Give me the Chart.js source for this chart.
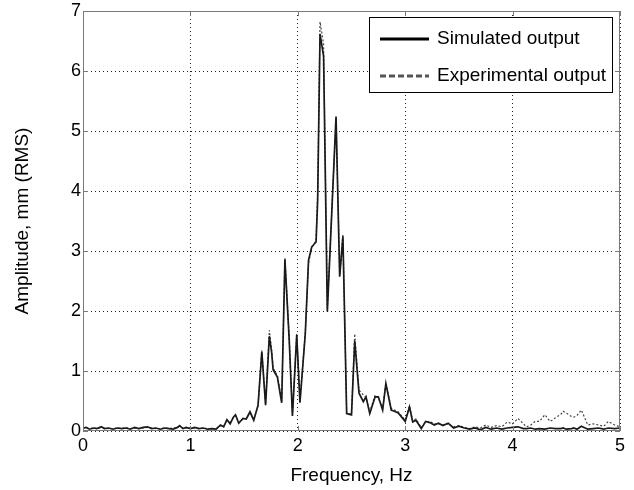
<!DOCTYPE html>
<html>
<head>
<meta charset="utf-8">
<script src="https://cdn.jsdelivr.net/npm/chart.js@4"></script>
<style>
  html, body { margin: 0; padding: 0; background: #fff; }
  #wrap { width: 634px; height: 490px; position: relative; }
</style>
</head>
<body>
<div id="wrap"><canvas id="ampChart"></canvas></div>
<script>
// Frequency points (Hz)
const freqs = [
  0.00, 0.03, 0.06, 0.10, 0.13, 0.17, 0.20, 0.24, 0.28, 0.32,
  0.36, 0.40, 0.44, 0.48, 0.52, 0.56, 0.60, 0.64, 0.68, 0.72,
  0.76, 0.80, 0.84, 0.88, 0.90, 0.93, 0.96, 1.00, 1.04, 1.08,
  1.12, 1.16, 1.20, 1.24, 1.28, 1.31, 1.34, 1.37, 1.40, 1.42,
  1.45, 1.49, 1.52, 1.555, 1.59, 1.63, 1.665, 1.70, 1.735, 1.757,
  1.77, 1.81, 1.85, 1.88, 1.92, 1.95, 1.99, 2.02, 2.07, 2.10,
  2.13, 2.17, 2.185, 2.207, 2.24, 2.275, 2.356, 2.39, 2.42, 2.455,
  2.50, 2.53, 2.57, 2.61, 2.635, 2.67, 2.72, 2.75, 2.79, 2.82,
  2.87, 2.90, 2.935, 3.00, 3.04, 3.07, 3.10, 3.15, 3.19, 3.23,
  3.27, 3.31, 3.35, 3.40, 3.45, 3.50, 3.55, 3.60, 3.65, 3.70,
  3.75, 3.80, 3.85, 3.90, 3.95, 4.00, 4.05, 4.10, 4.13, 4.17,
  4.21, 4.25, 4.30, 4.35, 4.40, 4.45, 4.47, 4.50, 4.55, 4.57,
  4.60, 4.64, 4.70, 4.75, 4.80, 4.85, 4.89, 4.95, 5.00
];

// Simulated output amplitude, mm (RMS)
const simulated = [
  0.05, 0.06, 0.03, 0.05, 0.04, 0.07, 0.04, 0.05, 0.03, 0.05,
  0.04, 0.05, 0.03, 0.06, 0.04, 0.06, 0.07, 0.04, 0.05, 0.03,
  0.05, 0.04, 0.03, 0.06, 0.09, 0.04, 0.06, 0.04, 0.06, 0.04,
  0.05, 0.03, 0.04, 0.03, 0.10, 0.07, 0.19, 0.12, 0.23, 0.27,
  0.13, 0.21, 0.20, 0.32, 0.18, 0.43, 1.32, 0.43, 1.58, 1.30,
  1.02, 0.90, 0.47, 2.86, 1.52, 0.25, 1.60, 0.47, 1.63, 2.85,
  3.07, 3.15, 3.85, 6.62, 6.25, 1.99, 5.24, 2.57, 3.24, 0.29,
  0.27, 1.50, 0.63, 0.49, 0.57, 0.29, 0.57, 0.57, 0.35, 0.79,
  0.35, 0.33, 0.30, 0.16, 0.40, 0.15, 0.18, 0.04, 0.16, 0.14,
  0.10, 0.13, 0.09, 0.13, 0.05, 0.08, 0.05, 0.03, 0.05, 0.02,
  0.06, 0.03, 0.05, 0.03, 0.05, 0.06, 0.07, 0.04, 0.04, 0.05,
  0.03, 0.04, 0.03, 0.05, 0.04, 0.04, 0.05, 0.03, 0.04, 0.05,
  0.03, 0.08, 0.03, 0.04, 0.05, 0.03, 0.05, 0.04, 0.05
];

// Experimental output amplitude, mm (RMS)
const experimental = [
  0.05, 0.05, 0.04, 0.05, 0.04, 0.06, 0.05, 0.04, 0.04, 0.05,
  0.04, 0.06, 0.04, 0.05, 0.04, 0.05, 0.06, 0.05, 0.04, 0.04,
  0.05, 0.04, 0.05, 0.06, 0.08, 0.05, 0.05, 0.05, 0.05, 0.04,
  0.05, 0.04, 0.04, 0.04, 0.09, 0.08, 0.18, 0.13, 0.22, 0.26,
  0.14, 0.20, 0.21, 0.30, 0.19, 0.42, 1.34, 0.45, 1.68, 1.35,
  1.05, 0.92, 0.50, 2.88, 1.55, 0.27, 1.62, 0.50, 1.65, 2.80,
  3.05, 3.18, 3.95, 6.82, 6.45, 2.05, 5.20, 2.60, 3.28, 0.30,
  0.28, 1.62, 0.68, 0.60, 0.56, 0.32, 0.60, 0.55, 0.38, 0.80,
  0.38, 0.35, 0.32, 0.18, 0.42, 0.17, 0.20, 0.06, 0.15, 0.16,
  0.12, 0.12, 0.10, 0.12, 0.07, 0.09, 0.06, 0.04, 0.07, 0.05,
  0.10, 0.06, 0.09, 0.07, 0.15, 0.12, 0.21, 0.12, 0.07, 0.10,
  0.16, 0.16, 0.27, 0.16, 0.22, 0.28, 0.33, 0.30, 0.24, 0.23,
  0.26, 0.35, 0.10, 0.12, 0.10, 0.08, 0.16, 0.10, 0.07
];

const xTicks = [0, 1, 2, 3, 4, 5];
const yTicks = [0, 1, 2, 3, 4, 5, 6, 7];
const seriesNames = ['Simulated output', 'Experimental output'];

const FONT = "Arial, 'Liberation Sans', sans-serif";

function toPoints(values) {
    return values.map((v, i) => ({ x: freqs[i], y: v }));
}

// MATLAB-like frame, inward ticks and legend box
const framePlugin = {
    id: 'frameAndLegend',
    afterDraw(chart) {
        const { ctx, chartArea: a, scales } = chart;
        ctx.save();
        ctx.strokeStyle = '#7a7a7a';
        ctx.lineWidth = 1;
        ctx.setLineDash([]);
        ctx.strokeRect(Math.round(a.left) + 0.5, Math.round(a.top) + 0.5,
            Math.round(a.right - a.left) - 1, Math.round(a.bottom - a.top) - 1);

        const tl = 5;
        ctx.beginPath();
        xTicks.forEach(t => {
            const x = Math.round(scales.x.getPixelForValue(t)) + 0.5;
            ctx.moveTo(x, a.bottom); ctx.lineTo(x, a.bottom - tl);
            ctx.moveTo(x, a.top); ctx.lineTo(x, a.top + tl);
        });
        yTicks.forEach(t => {
            const y = Math.round(scales.y.getPixelForValue(t)) + 0.5;
            ctx.moveTo(a.left, y); ctx.lineTo(a.left + tl, y);
            ctx.moveTo(a.right, y); ctx.lineTo(a.right - tl, y);
        });
        ctx.stroke();

        // legend
        const lx = 369.5, ly = 17.5, lw = 243, lh = 75;
        ctx.fillStyle = '#fff';
        ctx.fillRect(lx, ly, lw, lh);
        ctx.strokeStyle = '#000';
        ctx.strokeRect(lx, ly, lw, lh);

        const rows = [
            { y: 39, color: '#000', dash: [] },
            { y: 76, color: '#555', dash: [6, 3] }
        ];
        ctx.font = '19px ' + FONT;
        ctx.textBaseline = 'middle';
        ctx.textAlign = 'left';
        rows.forEach((r, i) => {
            ctx.beginPath();
            ctx.strokeStyle = r.color;
            ctx.lineWidth = 3;
            ctx.setLineDash(r.dash);
            ctx.moveTo(380, r.y);
            ctx.lineTo(429, r.y);
            ctx.stroke();
            ctx.fillStyle = '#000';
            ctx.fillText(seriesNames[i], 437, r.y);
        });
        ctx.restore();
    }
};

const ctx = document.getElementById('ampChart');

new Chart(ctx, {
    type: 'line',
    data: {
        datasets: [
            {
                label: seriesNames[0],
                data: toPoints(simulated),
                borderColor: '#1a1a1a',
                borderWidth: 1.7,
                pointRadius: 0,
                tension: 0,
                fill: false
            },
            {
                label: seriesNames[1],
                data: toPoints(experimental),
                borderColor: '#444',
                borderWidth: 1.2,
                borderDash: [2, 2],
                pointRadius: 0,
                tension: 0,
                fill: false
            }
        ]
    },
    options: {
        responsive: true,
        maintainAspectRatio: false,
        animation: false,
        layout: { padding: { top: 11, right: 14, left: 0, bottom: 0 } },
        plugins: {
            legend: { display: false },
            tooltip: { enabled: false }
        },
        scales: {
            x: {
                type: 'linear',
                min: 0,
                max: 5,
                afterBuildTicks: scale => { scale.ticks = xTicks.map(v => ({ value: v })); },
                afterFit: scale => {
                    scale.height = 59;
                    scale.paddingLeft = 0; scale.paddingRight = 0;
                },
                ticks: {
                    color: '#000',
                    padding: 4,
                    maxRotation: 0,
                    font: { family: FONT, size: 18 }
                },
                grid: { color: '#222', lineWidth: 1, drawTicks: false },
                border: { display: false, dash: [1, 3] },
                title: {
                    display: true,
                    text: 'Frequency, Hz',
                    color: '#000',
                    font: { family: FONT, size: 19 },
                    padding: { top: 0, bottom: 3 }
                }
            },
            y: {
                min: 0,
                max: 7,
                afterBuildTicks: scale => { scale.ticks = yTicks.map(v => ({ value: v })); },
                afterFit: scale => {
                    scale.width = 83;
                    scale.paddingTop = 0; scale.paddingBottom = 0;
                },
                ticks: {
                    color: '#000',
                    padding: 2,
                    font: { family: FONT, size: 18 }
                },
                grid: { color: '#222', lineWidth: 1, drawTicks: false },
                border: { display: false, dash: [1, 3] },
                title: {
                    display: true,
                    text: 'Amplitude, mm (RMS)',
                    color: '#000',
                    font: { family: FONT, size: 19 },
                    padding: { top: 11, bottom: 0 }
                }
            }
        }
    },
    plugins: [framePlugin]
});
</script>
</body>
</html>
